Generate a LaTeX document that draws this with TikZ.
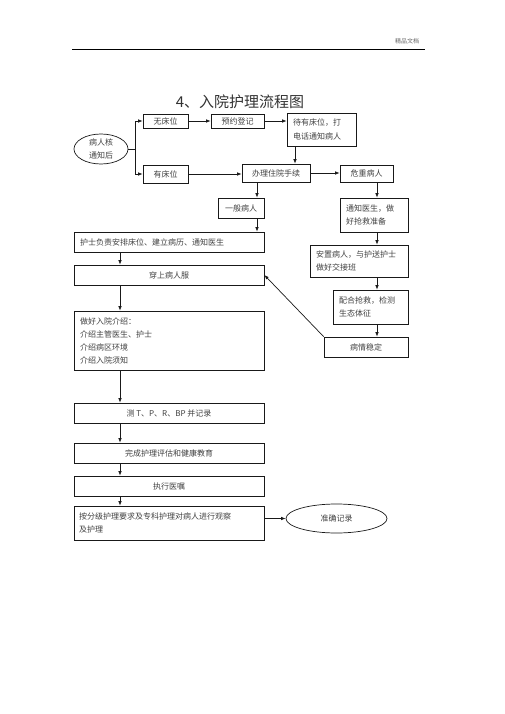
\documentclass[tikz,border=0pt]{standalone}
\usepackage{fontspec}
\setmainfont{Noto Sans CJK SC}
\usetikzlibrary{shapes.geometric,arrows.meta,calc}
\begin{document}
\begin{tikzpicture}[x=1pt,y=-1pt,
  box/.style={draw=black!90, line width=0.7pt, inner sep=0pt, text=black!75,
    font=\fontsize{8}{13.5}\selectfont},
  lbox/.style={box, align=left, inner xsep=6pt},
  oval/.style={box, ellipse, align=left},
  arr/.style={line width=0.7pt, draw=black!90, -{Latex[length=4.5pt,width=3.5pt]}},
  ln/.style={line width=0.7pt, draw=black!90}]
\useasboundingbox (0,0) rectangle (505,714);
% header
\draw[line width=0.8pt] (72,49) -- (425,49);
\node[font=\fontsize{6}{7}\selectfont, text=black!60] (hdr) at (407,41) {精品文档};
% title
\node[font=\fontsize{15}{18}\selectfont, text=black!80] (title) at (240,102) {4、入院护理流程图};
% nodes
\node[oval, minimum width=54, minimum height=30] (patient) at (101,149) {病人核\\通知后};
\node[box, minimum width=45, minimum height=14] (nobed) at (165.5,121) {无床位};
\node[box, minimum width=53, minimum height=14] (reserve) at (237.5,121) {预约登记};
\node[lbox, text width=57, minimum height=33] (wait) at (321.5,129.5) {待有床位，打\\电话通知病人};
\node[box, minimum width=45, minimum height=18] (bed) at (165.5,174) {有床位};
\node[box, minimum width=68, minimum height=18] (admit) at (276,173) {办理住院手续};
\node[box, minimum width=53, minimum height=17] (crit) at (366.5,173.5) {危重病人};
\node[box, minimum width=46, minimum height=20] (gen) at (241,208) {一般病人};
\node[lbox, text width=56, minimum height=34] (notify) at (374,215) {通知医生，做\\好抢救准备};
\node[lbox, text width=178, minimum height=20] (nurse) at (169,242) {护士负责安排床位、建立病历、通知医生};
\node[box, minimum width=190, minimum height=20] (gown) at (169,275) {穿上病人服};
\node[lbox, text width=86, minimum height=32] (settle) at (359,261) {安置病人，与护送护士\\做好交接班};
\node[lbox, text width=63, minimum height=34] (coop) at (370.5,307) {配合抢救，检测\\生态体征};
\node[box, minimum width=84, minimum height=20] (stable) at (366,347) {病情稳定};
\node[lbox, text width=178, minimum height=59, font=\fontsize{8}{13}\selectfont] (intro) at (169,340.5) {做好入院介绍：\\介绍主管医生、护士\\介绍病区环境\\介绍入院须知};
\node[box, minimum width=190, minimum height=20] (tpr) at (169,413) {测 T、P、R、BP 并记录};
\node[box, minimum width=190, minimum height=20] (assess) at (169,453) {完成护理评估和健康教育};
\node[box, minimum width=190, minimum height=20] (exec) at (169,486) {执行医嘱};
\node[lbox, inner xsep=5pt, text width=180, minimum height=34] (grade) at (169,523) {按分级护理要求及专科护理对病人进行观察\\及护理};
\node[oval, minimum width=101, minimum height=29] (record) at (336.5,518.5) {准确记录};
% helper coordinates
\coordinate (br) at (135,149);
\coordinate (xa) at (295,0);
\coordinate (xb) at (257,0);
\coordinate (xc) at (377,0);
\coordinate (xd) at (120,0);
% connectors
\draw[ln] (patient.east) -- (br);
\draw[arr] (br) |- (nobed.west);
\draw[arr] (br) |- (bed.west);
\draw[arr] (nobed) -- (reserve);
\draw[arr] (reserve.east) -- (reserve.east -| wait.west);
\draw[arr] (wait.south -| xa) -- (admit.north -| xa);
\draw[arr] (bed) -- (bed -| admit.west);
\draw[arr] (admit) -- (admit -| crit.west);
\draw[arr] (admit.south -| xb) -- (gen.north -| xb);
\draw[arr] (gen.south -| xb) -- (nurse.north -| xb);
\draw[arr] (crit.south -| xc) -- (notify.north -| xc);
\draw[arr] (notify.south -| xc) -- (settle.north -| xc);
\draw[arr] (settle.south -| xc) -- (coop.north -| xc);
\draw[arr] (coop.south -| xc) -- (stable.north -| xc);
\draw[arr] (stable.north west) -- (gown.east);
\draw[arr] (nurse.south -| xd) -- (gown.north -| xd);
\draw[arr] (gown.south -| xd) -- (intro.north -| xd);
\draw[arr] (intro.south -| xd) -- (tpr.north -| xd);
\draw[arr] (tpr.south -| xd) -- (assess.north -| xd);
\draw[arr] (assess.south -| xd) -- (exec.north -| xd);
\draw[arr] (exec.south -| xd) -- (grade.north -| xd);
\draw[arr] (grade.east |- record.west) -- (record.west);
\end{tikzpicture}
\end{document}
